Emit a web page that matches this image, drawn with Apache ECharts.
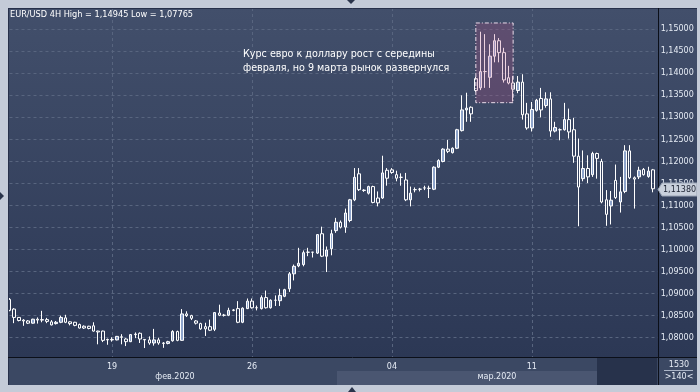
<!DOCTYPE html>
<html><head><meta charset="utf-8">
<script src="https://cdn.jsdelivr.net/npm/echarts@6/dist/echarts.min.js"></script>
<style>html,body{margin:0;padding:0;background:#c4cbd8}#c{width:700px;height:392px}</style>
</head><body><div id="c"></div>
<script>
const opens = [1.0887,1.0865,1.0846,1.0840,1.0838,1.0833,1.0842,1.0840,1.0841,1.0836,
1.0832,1.0835,1.0845,1.0836,1.0835,1.0830,1.0826,1.0826,1.0827,1.0815,
1.0815,1.0795,1.0796,1.0795,1.0802,1.0797,1.0791,1.0808,1.0810,1.0796,
1.0795,1.0788,1.0795,1.0788,1.0787,1.0793,1.0814,1.0794,1.0854,1.0850,
1.0838,1.0832,1.0825,1.0825,1.0819,1.0856,1.0851,1.0851,1.0863,1.0866,
1.0835,1.0866,1.0883,1.0868,1.0866,1.0891,1.0868,1.0885,1.0884,1.0894,
1.0911,1.0945,1.0963,1.0966,1.0994,1.0994,1.0992,1.1036,1.0985,1.1002,
1.1043,1.1062,1.1051,1.1066,1.1113,1.1172,1.1135,1.1128,1.1143,1.1117,
1.1117,1.1180,1.1181,1.1170,1.1164,1.1158,1.1113,1.1136,1.1137,1.1140,
1.1139,1.1137,1.1187,1.1200,1.1228,1.1220,1.1230,1.1270,1.1317,1.1323,
1.1388,1.1367,1.1404,1.1391,1.1439,1.1474,1.1447,1.1390,1.1378,1.1361,
1.1380,1.1308,1.1276,1.1316,1.1343,1.1327,1.1342,1.1269,1.1272,1.1272,
1.1295,1.1272,1.1212,1.1161,1.1184,1.1170,1.1218,1.1200,1.1113,1.1099,
1.1157,1.1108,1.1132,1.1224,1.1163,1.1165,1.1182,1.1166,1.1181];
const closes = [1.0862,1.0846,1.0839,1.0838,1.0833,1.0842,1.0840,1.0841,1.0837,1.0829,
1.0835,1.0846,1.0835,1.0832,1.0828,1.0822,1.0822,1.0821,1.0815,1.0813,
1.0794,1.0796,1.0795,1.0803,1.0801,1.0791,1.0807,1.0807,1.0797,1.0795,
1.0788,1.0795,1.0788,1.0787,1.0791,1.0814,1.0794,1.0854,1.0850,1.0844,
1.0833,1.0820,1.0820,1.0817,1.0857,1.0851,1.0851,1.0862,1.0862,1.0835,
1.0867,1.0883,1.0868,1.0868,1.0891,1.0868,1.0885,1.0885,1.0896,1.0909,
1.0945,1.0962,1.0969,1.0993,1.0994,1.0994,1.1034,1.0985,1.0999,1.1036,
1.1062,1.1051,1.1083,1.1113,1.1164,1.1136,1.1134,1.1143,1.1107,1.1106,
1.1174,1.1162,1.1175,1.1162,1.1164,1.1113,1.1128,1.1136,1.1137,1.1140,
1.1139,1.1187,1.1202,1.1228,1.1223,1.1230,1.1272,1.1317,1.1321,1.1308,
1.1361,1.1404,1.1404,1.1439,1.1474,1.1447,1.1385,1.1378,1.1364,1.1380,
1.1306,1.1276,1.1318,1.1339,1.1317,1.1342,1.1269,1.1277,1.1272,1.1295,
1.1267,1.1212,1.1142,1.1184,1.1165,1.1218,1.1207,1.1108,1.1080,1.1112,
1.1118,1.1131,1.1224,1.1163,1.1160,1.1180,1.1170,1.1178,1.1138];
const lows = [1.0860,1.0833,1.0837,1.0827,1.0831,1.0832,1.0832,1.0835,1.0833,1.0828,
1.0830,1.0833,1.0833,1.0828,1.0826,1.0821,1.0820,1.0819,1.0814,1.0785,
1.0790,1.0784,1.0791,1.0794,1.0785,1.0781,1.0790,1.0799,1.0788,1.07765,
1.0784,1.0782,1.0784,1.0777,1.0785,1.0791,1.0792,1.0793,1.0847,1.0840,
1.0830,1.0818,1.0804,1.0815,1.0815,1.0849,1.0848,1.0849,1.0860,1.0833,
1.0833,1.0865,1.0866,1.0862,1.0864,1.0866,1.0866,1.0872,1.0872,1.0892,
1.0904,1.0930,1.0960,1.0962,1.0985,1.0982,1.0990,1.0983,1.0949,1.0987,
1.1038,1.1048,1.1038,1.1062,1.1110,1.1133,1.1131,1.1125,1.1105,1.1098,
1.1115,1.1145,1.1172,1.1155,1.1145,1.1110,1.1098,1.1130,1.1132,1.1135,
1.1117,1.1135,1.1185,1.1198,1.1219,1.1218,1.1228,1.1268,1.1290,1.1290,
1.1358,1.1362,1.1367,1.1367,1.1425,1.1425,1.1379,1.1375,1.1336,1.1355,
1.1295,1.1272,1.1268,1.1313,1.1300,1.1322,1.1256,1.1266,1.1248,1.1270,
1.1252,1.1197,1.1053,1.1155,1.1151,1.1165,1.1161,1.1105,1.1054,1.1057,
1.1115,1.1084,1.1128,1.1160,1.1093,1.1160,1.1168,1.1163,1.1130];
const highs = [1.0890,1.0867,1.0847,1.0842,1.0840,1.0843,1.0846,1.0861,1.0845,1.0840,
1.0838,1.0850,1.0852,1.0837,1.0836,1.0832,1.0828,1.0827,1.0835,1.0816,
1.0816,1.0798,1.0801,1.0804,1.0808,1.0799,1.0808,1.0812,1.0812,1.0797,
1.0803,1.0820,1.0800,1.0790,1.0793,1.0817,1.0816,1.0865,1.0860,1.0852,
1.0840,1.0834,1.0834,1.0841,1.0858,1.0875,1.0854,1.0868,1.0865,1.0883,
1.0869,1.0889,1.0889,1.0873,1.0896,1.0907,1.0887,1.0896,1.0911,1.0911,
1.0949,1.0966,1.1004,1.0998,1.1004,1.0995,1.1035,1.1052,1.1007,1.1045,
1.1072,1.1066,1.1093,1.1115,1.1185,1.1185,1.1137,1.1145,1.1145,1.1132,
1.1213,1.1185,1.1185,1.1179,1.1173,1.1174,1.1143,1.1141,1.1140,1.1145,
1.1145,1.1189,1.1205,1.1230,1.1249,1.1232,1.1274,1.1350,1.1356,1.1325,
1.1392,1.14945,1.1489,1.1466,1.1489,1.1480,1.1458,1.1417,1.1394,1.1394,
1.1398,1.1333,1.1335,1.1342,1.1367,1.1357,1.1357,1.1290,1.1275,1.1333,
1.1320,1.1299,1.1252,1.1225,1.1214,1.1222,1.1220,1.1206,1.1135,1.1133,
1.1193,1.1165,1.1237,1.1237,1.1166,1.1188,1.1185,1.1188,1.1183];

const tickIndex = [22, 52, 82, 112];
const tickText = ['19', '26', '04', '11'];
const monthLabels = ['фев.2020', 'мар.2020'];
const symbolName = 'EUR/USD 4H';
const noteLines = ['Курс евро к доллару рост с середины', 'февраля, но 9 марта рынок развернулся'];
const highlightX = [100, 108];
const highlightY = [1.15143, 1.13334];
const barsInfo = ['1530', '>140<'];

const fmt = v => v.toFixed(5).replace('.', ',');
const N = opens.length;
const cats = [];
for (let i = 0; i <= N; i++) cats.push(String(i));
const candles = opens.map((o, i) => [o, closes[i], lows[i], highs[i]]);
const lastPrice = closes[N - 1];
const hi = Math.max(...highs), lo = Math.min(...lows);
const isTick = i => tickIndex.indexOf(i) >= 0;
const isRound = v => Math.abs(v / 0.005 - Math.round(v / 0.005)) < 1e-6;

const FRAME = '#c4cbd8';
const TXT = '#e6ecf5';
const FONT = '"DejaVu Sans", sans-serif';
const GRIDC = '#58657f';

const chart = echarts.init(document.getElementById('c'), null, {renderer: 'canvas', width: 700, height: 392});
chart.setOption({
  animation: false,
  backgroundColor: FRAME,
  grid: {left: 9.5, right: 42.3, top: 8, bottom: 35, containLabel: false},
  xAxis: {
    type: 'category', data: cats, boundaryGap: false,
    axisLine: {show: false}, axisTick: {show: false},
    axisLabel: {interval: (i) => isTick(i), formatter: (v, i) => isTick(i) ? tickText[tickIndex.indexOf(i)] : '',
      color: TXT, fontSize: 8, fontFamily: FONT, margin: 6},
    splitLine: {show: true, interval: (i) => isTick(i), lineStyle: {color: GRIDC, type: [3, 3], width: 1}}
  },
  yAxis: {
    type: 'value', position: 'right', min: 1.07562, max: 1.15483, splitNumber: 16, scale: true,
    axisLine: {show: false}, axisTick: {show: false},
    axisLabel: {margin: 3, color: TXT, fontSize: 8, fontFamily: FONT, formatter: v => isRound(v) ? fmt(v) : ''},
    splitLine: {show: true, lineStyle: {color: GRIDC, type: [3, 3], width: 1}}
  },
  series: [{
    type: 'candlestick', data: candles, barWidth: 3, z: 2,
    itemStyle: {color: '#8ea4cb', color0: 'rgba(0,0,0,0)', borderColor: '#ffffff', borderColor0: '#ffffff', borderWidth: 1},
    markArea: {
      silent: true, z: 10,
      itemStyle: {color: 'rgba(185,80,130,0.25)', borderColor: '#eadcea', borderWidth: 1, borderType: [4, 2, 1, 2]},
      data: [[{xAxis: String(highlightX[0]), yAxis: highlightY[0]}, {xAxis: String(highlightX[1]), yAxis: highlightY[1]}]]
    }
  }]
});

// price tag placed through the library's own y scale
const py = Math.round(chart.convertToPixel({yAxisIndex: 0}, lastPrice)) + 0.5;
chart.setOption({
  graphic: [
    {type: 'rect', z: -10, shape: {x: 8, y: 8, width: 689, height: 349},
      style: {fill: new echarts.graphic.LinearGradient(0, 0, 0, 1, [{offset: 0, color: '#424f6b'}, {offset: 1, color: '#2c3855'}])}},
    {type: 'rect', z: -10, shape: {x: 8, y: 357, width: 689, height: 28}, style: {fill: '#3b4863'}},
    {type: 'rect', z: -9, shape: {x: 337, y: 371, width: 260, height: 14}, style: {fill: '#4a5671'}},
    {type: 'rect', z: -9, shape: {x: 597, y: 358, width: 60, height: 27}, style: {fill: '#27324b'}},
    {type: 'rect', z: 100, shape: {x: 0, y: 0, width: 700, height: 8}, style: {fill: FRAME}},
    {type: 'rect', z: 100, shape: {x: 0, y: 0, width: 8, height: 392}, style: {fill: FRAME}},
    {type: 'rect', z: 100, shape: {x: 697, y: 0, width: 3, height: 392}, style: {fill: FRAME}},
    {type: 'rect', z: 100, shape: {x: 0, y: 385, width: 700, height: 7}, style: {fill: FRAME}},
    {type: 'line', z: 30, shape: {x1: 8, y1: 8.5, x2: 697, y2: 8.5}, style: {stroke: '#27304a', lineWidth: 1}},
    {type: 'line', z: 30, shape: {x1: 8.5, y1: 8, x2: 8.5, y2: 385}, style: {stroke: '#27304a', lineWidth: 1}},
    {type: 'line', z: 30, shape: {x1: 658.5, y1: 8, x2: 658.5, y2: 385}, style: {stroke: '#0b0f19', lineWidth: 1}},
    {type: 'line', z: 30, shape: {x1: 8, y1: 357.5, x2: 697, y2: 357.5}, style: {stroke: '#0b0f19', lineWidth: 1}},
    {type: 'line', z: 30, shape: {x1: 664, y1: 370.5, x2: 693, y2: 370.5}, style: {stroke: '#aab4c6', lineWidth: 1}},
    {type: 'polygon', z: 110, shape: {points: [[347, 0], [355, 0], [351, 4]]}, style: {fill: '#2a344b'}},
    {type: 'polygon', z: 110, shape: {points: [[348, 392], [356, 392], [352, 387]]}, style: {fill: '#2a344b'}},
    {type: 'polygon', z: 110, shape: {points: [[0, 192], [0, 200], [4, 196]]}, style: {fill: '#2a344b'}},
    {type: 'polygon', z: 60, shape: {points: [[658, py], [662, py - 6.5], [697, py - 6.5], [697, py + 6.5], [662, py + 6.5]]},
      style: {fill: '#c9d0dc', stroke: '#9aa4b6', lineWidth: 1}},
    {type: 'text', z: 61, x: 663, y: py, style: {text: fmt(lastPrice), fill: '#1b2131', font: '8px ' + FONT, verticalAlign: 'middle'}},
    {type: 'text', z: 40, x: 10, y: 15, style: {text: symbolName + ' High = ' + fmt(hi) + ' Low = ' + fmt(lo), fill: '#ffffff', font: '8.2px ' + FONT, verticalAlign: 'middle'}},
    {type: 'text', z: 40, x: 243, y: 54, style: {text: noteLines[0], fill: '#ffffff', font: '9.6px ' + FONT, verticalAlign: 'middle'}},
    {type: 'text', z: 40, x: 243, y: 68, style: {text: noteLines[1], fill: '#ffffff', font: '9.6px ' + FONT, verticalAlign: 'middle'}},
    {type: 'text', z: 40, x: 175, y: 377, style: {text: monthLabels[0], fill: TXT, font: '8px ' + FONT, align: 'center', verticalAlign: 'middle'}},
    {type: 'text', z: 40, x: 497, y: 377, style: {text: monthLabels[1], fill: TXT, font: '8px ' + FONT, align: 'center', verticalAlign: 'middle'}},
    {type: 'text', z: 40, x: 679, y: 365, style: {text: barsInfo[0], fill: TXT, font: '8px ' + FONT, align: 'center', verticalAlign: 'middle'}},
    {type: 'text', z: 40, x: 679, y: 377, style: {text: barsInfo[1], fill: TXT, font: '8px ' + FONT, align: 'center', verticalAlign: 'middle'}}
  ]
});
</script></body></html>
